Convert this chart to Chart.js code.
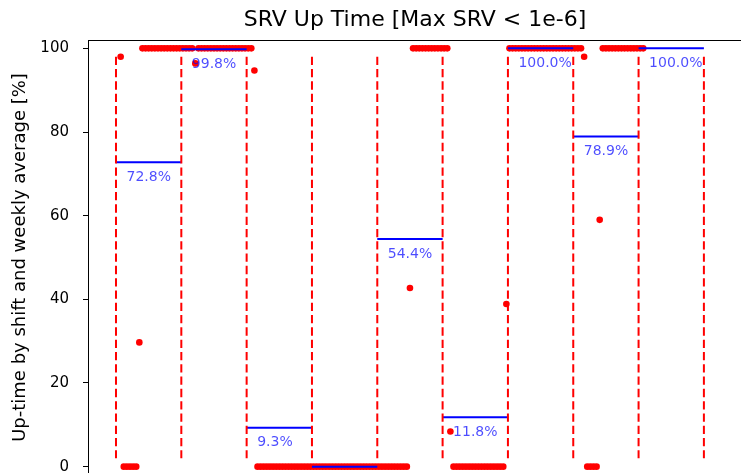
<!DOCTYPE html>
<html>
<head>
<meta charset="utf-8">
<script src="https://cdn.jsdelivr.net/npm/chart.js@4.4.1/dist/chart.umd.min.js"></script>
<style>
  html, body { margin: 0; padding: 0; overflow: hidden; background: #fff; }
</style>
</head>
<body>
<canvas id="srv_chart" width="760" height="479"></canvas>
<script>
// uptime per 8h shift [%], one row per week (21 shifts)
const shiftUptime = [
    98, 0, 0, 0, 0, 0, 29.7, 100, 100, 100, 100, 100, 100, 100, 100, 100, 100, 100, 100, 100, 100,
    100, 100, 100, 96.4, 100, 100, 100, 100, 100, 100, 100, 100, 100, 100, 100, 100, 100, 100, 100, 100, 100,
    100, 94.7, 0, 0, 0, 0, 0, 0, 0, 0, 0, 0, 0, 0, 0, 0, 0, 0, 0, 0, 0,
    0, 0, 0, 0, 0, 0, 0, 0, 0, 0, 0, 0, 0, 0, 0, 0, 0, 0, 0, 0, 0,
    0, 0, 0, 0, 0, 0, 0, 0, 0, 42.7, 100, 100, 100, 100, 100, 100, 100, 100, 100, 100, 100,
    100, 8.4, 0, 0, 0, 0, 0, 0, 0, 0, 0, 0, 0, 0, 0, 0, 0, 0, 0, 38.9, 100,
    100, 100, 100, 100, 100, 100, 100, 100, 100, 100, 100, 100, 100, 100, 100, 100, 100, 100, 100, 100, 100,
    100, 100, 98, 0, 0, 0, 0, 59, 100, 100, 100, 100, 100, 100, 100, 100, 100, 100, 100, 100, 100,
    100
];
// time of each shift reading, hours since start of first week
const shiftHours = shiftUptime.map((v, i) => 12 + 8 * i);

// week boundaries [h] and weekly averages [%]
const weekStart = [0, 168, 336, 504, 672, 840, 1008, 1176, 1344, 1512];
const weekAvg = [72.8, 99.8, 9.3, 0.0, 54.4, 11.8, 100.0, 78.9, 100.0];

const yTicks = [0, 20, 40, 60, 80, 100];
const chartTitle = 'SRV Up Time [Max SRV < 1e-6]';

Chart.defaults.font.family = 'DejaVu Sans';
Chart.defaults.color = '#000';

const dots = shiftHours.map((h, i) => ({ x: h, y: shiftUptime[i] }));

const avgLines = [];
weekAvg.forEach((v, i) => {
    avgLines.push({ x: weekStart[i], y: v });
    avgLines.push({ x: weekStart[i + 1], y: v });
    avgLines.push({ x: weekStart[i + 1], y: null });
});

const weekLines = [];
weekStart.forEach(h => {
    weekLines.push({ x: h, y: 98 });
    weekLines.push({ x: h, y: 2 });
    weekLines.push({ x: h, y: null });
});

const extras = {
    id: 'extras',
    afterDatasetsDraw(chart) {
        const { ctx, scales: { x, y } } = chart;
        ctx.save();
        ctx.font = '14px "DejaVu Sans"';
        ctx.fillStyle = 'rgba(0,0,255,0.7)';
        ctx.textAlign = 'left';
        ctx.textBaseline = 'middle';
        weekAvg.forEach((v, i) => {
            ctx.fillText(v.toFixed(1) + '%', x.getPixelForValue(weekStart[i] + 27), y.getPixelForValue(v - 3.6));
        });
        ctx.restore();
    },
    afterDraw(chart) {
        const { ctx, chartArea: a } = chart;
        ctx.save();
        // top spine
        ctx.strokeStyle = '#000';
        ctx.lineWidth = 1;
        ctx.beginPath();
        ctx.moveTo(a.left, a.top + 0.5);
        ctx.lineTo(a.right, a.top + 0.5);
        ctx.stroke();
        // title, centred on the axes
        ctx.font = '22px "DejaVu Sans"';
        ctx.fillStyle = '#000';
        ctx.textAlign = 'center';
        ctx.textBaseline = 'middle';
        ctx.fillText(chartTitle, (a.left + a.right) / 2, 20);
        ctx.restore();
    }
};

const config = {
    type: 'line',
    data: {
        datasets: [
            {
                label: 'shift',
                data: dots,
                showLine: false,
                pointRadius: 3.3,
                pointBackgroundColor: 'red',
                pointBorderWidth: 0,
                order: 3
            },
            {
                label: 'weekly average',
                data: avgLines,
                borderColor: 'blue',
                borderWidth: 2,
                pointRadius: 0,
                spanGaps: false,
                order: 2
            },
            {
                label: 'week',
                data: weekLines,
                borderColor: 'red',
                borderWidth: 2,
                borderDash: [8.3, 4],
                pointRadius: 0,
                spanGaps: false,
                order: 1
            }
        ]
    },
    options: {
        responsive: false,
        animation: false,
        devicePixelRatio: 1,
        layout: { padding: { left: 0, right: 18, top: 40, bottom: 0 } },
        scales: {
            x: {
                type: 'linear',
                min: -72,
                max: 1610,
                display: false
            },
            y: {
                min: -2,
                max: 102,
                afterBuildTicks: s => { s.ticks = yTicks.map(v => ({ value: v })); },
                afterFit: s => { s.width = 88; s.paddingTop = 0; s.paddingBottom = 0; },
                ticks: { padding: 14, font: { size: 15 } },
                grid: { drawOnChartArea: false, drawTicks: true, tickLength: 5, color: '#000' },
                border: { display: true, color: '#000', width: 1 },
                title: {
                    display: true,
                    text: 'Up-time by shift and weekly average [%]',
                    font: { size: 18 },
                    padding: { top: 10, bottom: 0 }
                }
            }
        },
        plugins: {
            legend: { display: false },
            tooltip: { enabled: false },
            title: { display: false }
        }
    },
    plugins: [extras]
};

const srvChart = new Chart(document.getElementById('srv_chart'), config);
</script>
</body>
</html>
